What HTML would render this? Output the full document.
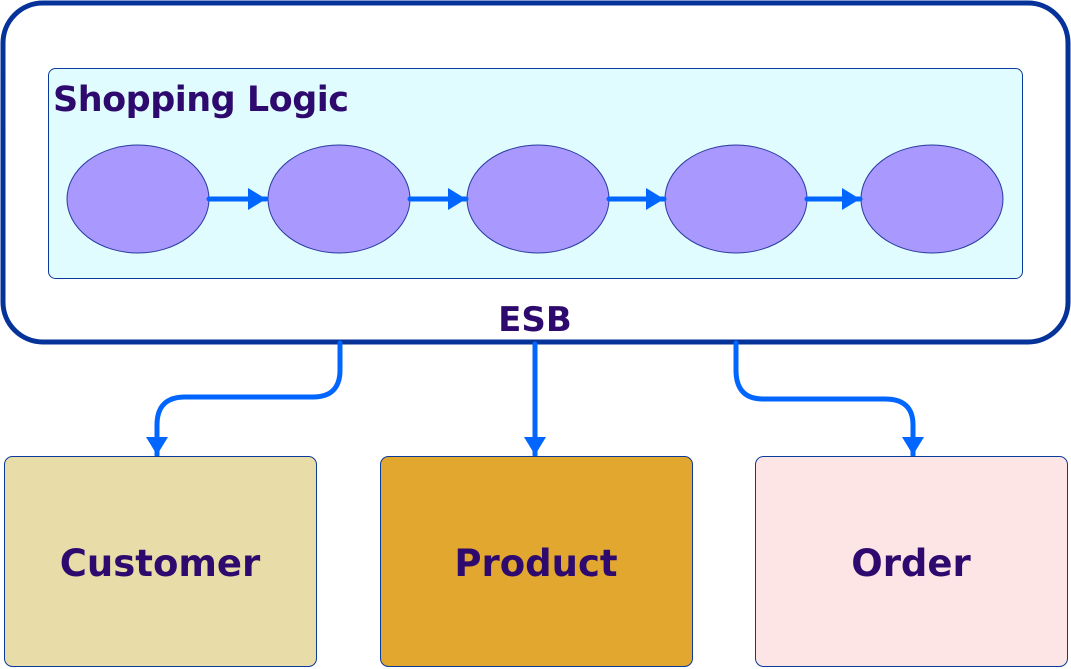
<!DOCTYPE html>
<html><head><style>body{margin:0;background:#fff}svg{display:block}</style></head><body>
<svg width="1071" height="669" viewBox="0 0 1071 669" xmlns="http://www.w3.org/2000/svg" font-family="'DejaVu Sans','Liberation Sans',sans-serif" font-weight="bold">
<defs>
<marker id="b" markerWidth="18" markerHeight="22" refX="18" refY="11" orient="auto" markerUnits="userSpaceOnUse" viewBox="0 0 18 22"><path d="M0,0L18,11L0,22z" fill="#0066ff"/></marker></defs>
<rect x="3" y="3" width="1065" height="339" rx="40" fill="#fff" stroke="#05339a" stroke-width="5"/>
<rect x="48.5" y="68.5" width="974" height="210" rx="7" fill="#e0fcfe" stroke="#0a3a9a" stroke-width="1"/>
<text x="53" y="111" font-size="35" fill="#2e0a6e" textLength="296">Shopping Logic</text>
<g fill="#a998fd" stroke="#2a3aa0" stroke-width="1">
<ellipse cx="138" cy="199" rx="71" ry="54"/><ellipse cx="339" cy="199" rx="71" ry="54"/><ellipse cx="538" cy="199" rx="71" ry="54"/><ellipse cx="736" cy="199" rx="71" ry="54"/><ellipse cx="932" cy="199" rx="71" ry="54"/></g>
<g stroke="#0066ff" stroke-width="5" fill="none" stroke-linecap="round">
<line x1="209" y1="199" x2="266" y2="199" marker-end="url(#b)"/>
<line x1="410" y1="199" x2="466" y2="199" marker-end="url(#b)"/>
<line x1="609" y1="199" x2="664" y2="199" marker-end="url(#b)"/>
<line x1="807" y1="199" x2="860" y2="199" marker-end="url(#b)"/>
<path d="M340,343V370Q340,397 313,397H185Q157,397 157,425V455" marker-end="url(#b)"/>
<path d="M535,344V455" marker-end="url(#b)"/>
<path d="M736,343V370Q736,399 763,399H885Q913,399 913,425V455" marker-end="url(#b)"/>
</g>
<text x="535" y="331" font-size="34" fill="#2e0a6e" text-anchor="middle">ESB</text>
<rect x="4.5" y="456.5" width="312" height="210" rx="8" fill="#e8dda8" stroke="#0a3a9a"/>
<rect x="380.5" y="456.5" width="312" height="210" rx="8" fill="#e1a72f" stroke="#0a3a9a"/>
<rect x="755.5" y="456.5" width="312" height="210" rx="8" fill="#fde5e6" stroke="#0a3a9a"/>
<g font-size="37" fill="#2e0a6e" text-anchor="middle">
<text x="160" y="576">Customer</text><text x="536" y="576">Product</text><text x="911" y="576">Order</text></g>
</svg>
</body></html>
